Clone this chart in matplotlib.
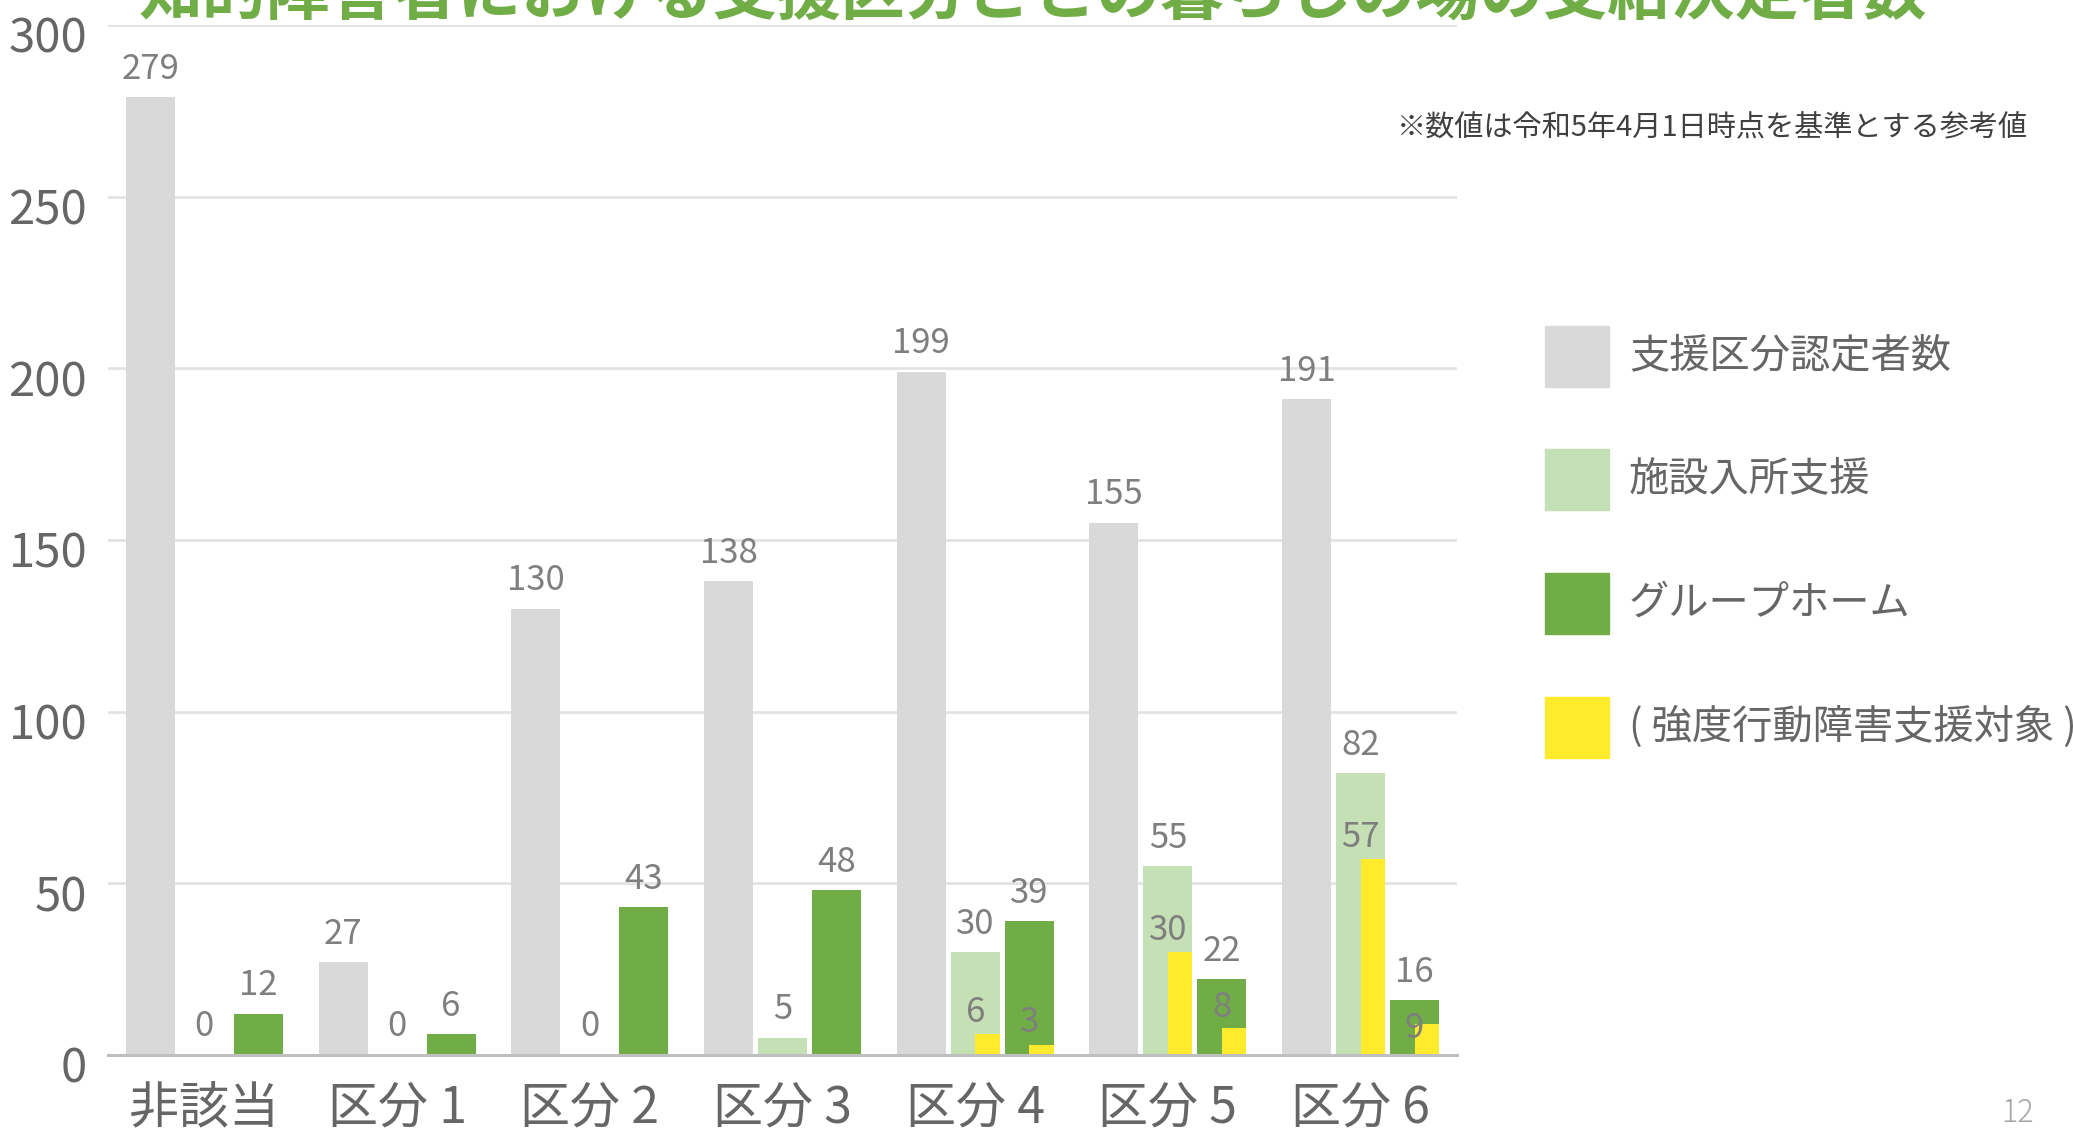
import numpy as np
import matplotlib
matplotlib.use("Agg")
import matplotlib.pyplot as plt
from matplotlib.patches import Rectangle
from matplotlib.transforms import ScaledTranslation

plt.rcParams['font.family'] = ['Noto Sans CJK JP', 'DejaVu Sans']

# ---- data ----
categories = ["非該当", "区分 1", "区分 2", "区分 3", "区分 4", "区分 5", "区分 6"]
certified = [279, 27, 130, 138, 199, 155, 191]          # 支援区分認定者数
facility = [0, 0, 0, 5, 30, 55, 82]                      # 施設入所支援
grouphome = [12, 6, 43, 48, 39, 22, 16]                  # グループホーム
facility_behav = [np.nan, np.nan, np.nan, np.nan, 6, 30, 57]   # 強度行動障害 (施設入所)
grouphome_behav = [np.nan, np.nan, np.nan, np.nan, 3, 8, 9]    # 強度行動障害 (GH)
yticks = [0, 50, 100, 150, 200, 250, 300]
legend_labels = ["支援区分認定者数", "施設入所支援", "グループホーム", "( 強度行動障害支援対象 )"]
title = "知的障害者における支援区分ごとの暮らしの場の支給決定者数"
note = "※数値は令和5年4月1日時点を基準とする参考値"

C_GRAY = "#d9d9d9"
C_LG = "#c5e0b4"
C_G = "#70ad47"
C_Y = "#ffeb2b"
C_LBL = "#7f7f7f"
C_TICK = "#666666"

W, H = 2073, 1141
fig = plt.figure(figsize=(W / 100, H / 100), dpi=100)
ax_l, ax_r, ax_t, ax_b = 108, 1457, 25, 1055
ax = fig.add_axes([ax_l / W, 1 - ax_b / H, (ax_r - ax_l) / W, (ax_b - ax_t) / H])

x = np.arange(len(categories))
bw = 0.254
off = 0.28

ax.bar(x - off, certified, bw, color=C_GRAY, zorder=2)
ax.bar(x, facility, bw, color=C_LG, zorder=2)
ax.bar(x + off, grouphome, bw, color=C_G, zorder=2)
ax.bar(x + bw / 4, facility_behav, bw / 2, color=C_Y, zorder=3)
ax.bar(x + off + bw / 4, grouphome_behav, bw / 2, color=C_Y, zorder=3)

ax.set_xlim(-0.5, len(categories) - 0.5)
ax.set_ylim(0, 300)
ax.set_yticks(yticks)
ax.set_yticklabels([str(t) for t in yticks], fontsize=34, color=C_TICK)
ax.set_xticks(x)
ax.set_xticklabels(categories, fontsize=36, color=C_TICK)
ax.tick_params(axis='both', length=0)
ax.tick_params(axis='y', pad=15)
ax.tick_params(axis='x', pad=20)
shift = ScaledTranslation(0, -9 / 100, fig.dpi_scale_trans)
for lab in ax.get_yticklabels():
    lab.set_transform(lab.get_transform() + shift)
for s in ['top', 'right', 'left']:
    ax.spines[s].set_visible(False)
ax.spines['bottom'].set_color('#bfbfbf')
ax.spines['bottom'].set_linewidth(2.2)
ax.spines['bottom'].set_zorder(4)
ax.grid(axis='y', color='#e3e3e3', linewidth=2.0, zorder=0)
ax.set_axisbelow(True)

px_per_unit = (ax_b - ax_t) / 300.0

def label(xp, v, off_px=28):
    ax.annotate(str(int(v)), (xp, v), xytext=(0, off_px), textcoords='offset pixels',
                ha='center', va='center', fontsize=25, color=C_LBL, zorder=5)

for i in range(len(categories)):
    label(x[i] - off, certified[i])
    label(x[i], facility[i])
    label(x[i] + off, grouphome[i])
    for parent, yv, xp in ((facility[i], facility_behav[i], x[i]),
                           (grouphome[i], grouphome_behav[i], x[i] + off)):
        if np.isnan(yv):
            continue
        yc = yv + 22 / px_per_unit
        if yc + 28 / px_per_unit > parent:
            yc = parent - 28 / px_per_unit
        ax.text(xp, yc, str(int(yv)), ha='center', va='center', fontsize=25,
                color=C_LBL, zorder=5)

# title (partly cut off at top as in reference)
fig.text(139 / W, 1 - 14 / H, title, ha='left', va='baseline', fontsize=46,
         color=C_G, fontweight='bold')
# note
fig.text(1397 / W, 1 - 128 / H, note, ha='left', va='center', fontsize=21, color='#404040')

# legend (manual)
leg_colors = [C_GRAY, C_LG, C_G, C_Y]
rows = [356, 479, 603, 727]
for c, lab, yc in zip(leg_colors, legend_labels, rows):
    fig.add_artist(Rectangle((1545 / W, 1 - (yc + 31) / H), 64 / W, 61 / H,
                             transform=fig.transFigure, color=c))
    fig.text(1629 / W, 1 - yc / H, lab, ha='left', va='center', fontsize=29, color=C_TICK)

# page number
fig.text(2018 / W, 1 - 1113 / H, "12", ha='center', va='center', fontsize=22,
         color='#a6a6a6', fontweight='light')

fig.savefig("out.png", dpi=100)
